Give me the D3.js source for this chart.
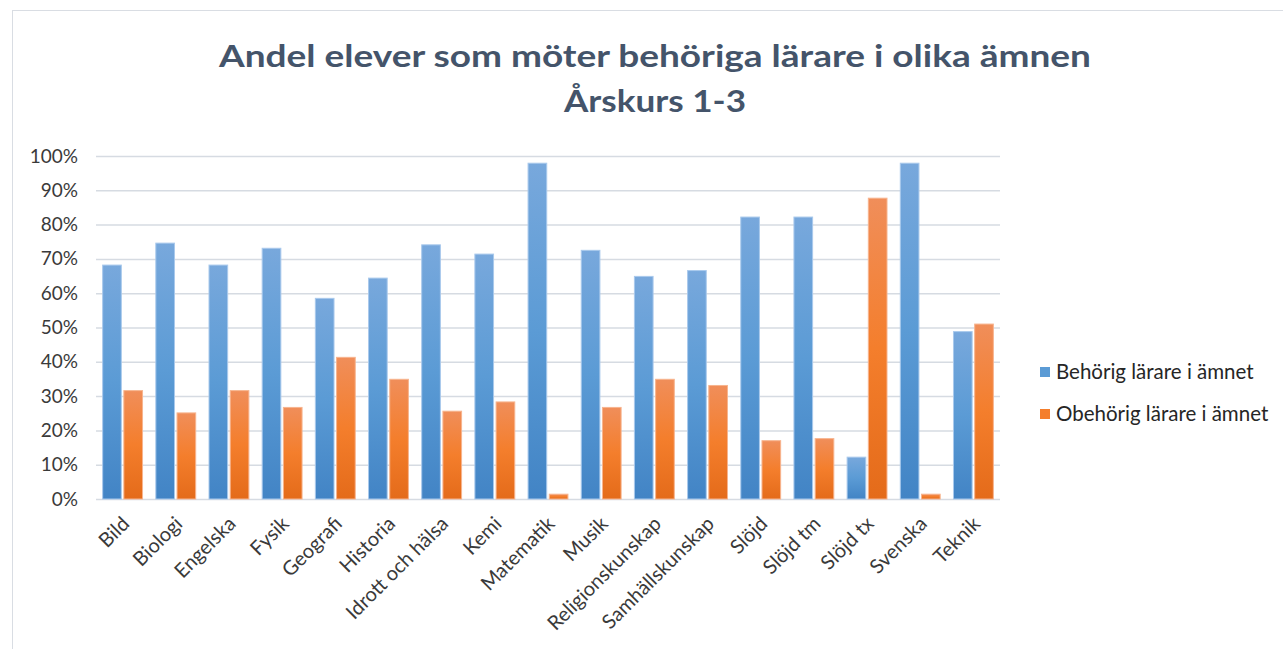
<!DOCTYPE html>
<html>
<head>
<meta charset="utf-8">
<script src="https://cdn.jsdelivr.net/npm/d3@7"></script>
<style>
    body { margin: 0; background: #fff; }
    svg { display: block; font-family: Lato, 'Open Sans', sans-serif; }
</style>
</head>
<body>
<svg></svg>
<script>
const subjects = ['Bild', 'Biologi', 'Engelska', 'Fysik', 'Geografi', 'Historia', 'Idrott och hälsa', 'Kemi',
    'Matematik', 'Musik', 'Religionskunskap', 'Samhällskunskap', 'Slöjd', 'Slöjd tm', 'Slöjd tx', 'Svenska', 'Teknik']
const behorig = [68.2, 74.6, 68.2, 73.1, 58.5, 64.4, 74.1, 71.4, 97.9, 72.5, 64.9, 66.6, 82.2, 82.2, 12.2, 97.9, 48.8]
const obehorig = [31.6, 25.1, 31.6, 26.7, 41.3, 34.9, 25.6, 28.3, 1.4, 26.7, 34.9, 33.1, 17.0, 17.6, 87.7, 1.4, 51.0]
const seriesNames = ['Behörig lärare i ämnet', 'Obehörig lärare i ämnet']
const yTicks = [0, 10, 20, 30, 40, 50, 60, 70, 80, 90, 100]
const titleLines = ['Andel elever som möter behöriga lärare i olika ämnen', 'Årskurs 1-3']

const width = 1283
const height = 649
const svg = d3.select('svg').attr('width', width).attr('height', height)

// gradients like the office-style bars
const defs = svg.append('defs')
const gradients = [
    { id: 'gBlue', stops: ['#78a8dc', '#5b9bd5', '#4284c5'] },
    { id: 'gOrange', stops: ['#f08e5a', '#f47e2c', '#e46b1a'] }
]
gradients.forEach(g => {
    const lg = defs.append('linearGradient').attr('id', g.id)
        .attr('x1', 0).attr('y1', 0).attr('x2', 0).attr('y2', 1)
    g.stops.forEach((c, i) => lg.append('stop').attr('offset', i / 2).attr('stop-color', c))
})
const strokes = ['#a9c9ec', '#f7b48e']

// chart frame
svg.append('rect')
    .attr('x', 12.5).attr('y', 10.5).attr('width', width - 10).attr('height', height)
    .attr('fill', 'none').attr('stroke', '#d9dde3').attr('stroke-width', 1)

// title
svg.selectAll('text.title').data(titleLines).enter().append('text')
    .attr('class', 'title')
    .attr('x', 655)
    .attr('y', (d, i) => 67 + i * 45)
    .attr('text-anchor', 'middle')
    .attr('font-size', 30)
    .attr('font-weight', 'bold')
    .attr('fill', '#44546a')
    .attr('textLength', (d, i) => i === 0 ? 872 : 182)
    .attr('lengthAdjust', 'spacingAndGlyphs')
    .text(d => d)

const x = d3.scaleBand().domain(subjects).range([96, 1000]).paddingInner(0.25).paddingOuter(0.125)
const y = d3.scaleLinear().domain([0, 100]).range([499, 156])
const xs = d3.scaleBand().domain([0, 1]).range([0, x.bandwidth()]).paddingInner(0.12)

// gridlines
svg.append('g').selectAll('line').data(yTicks).enter().append('line')
    .attr('x1', 96).attr('x2', 1000)
    .attr('y1', d => y(d) + 0.5).attr('y2', d => y(d) + 0.5)
    .attr('stroke', '#d6dbe2').attr('stroke-width', 1.5)

// y axis labels
const yAxis = svg.append('g').attr('transform', 'translate(78,0)')
    .call(d3.axisLeft(y).tickValues(yTicks).tickFormat(d => d + '%').tickSize(0).tickPadding(0))
yAxis.select('.domain').remove()
yAxis.selectAll('text')
    .attr('font-family', 'Lato, sans-serif').attr('font-size', 19).attr('fill', '#3a3a3a')

// bars
const groups = svg.append('g').selectAll('g').data(subjects).enter().append('g')
    .attr('transform', d => `translate(${x(d)},0)`)

groups.selectAll('rect')
    .data((d, i) => [behorig[i], obehorig[i]])
    .enter().append('rect')
    .attr('x', (d, j) => xs(j))
    .attr('width', xs.bandwidth())
    .attr('y', d => y(d))
    .attr('height', d => y(0) - y(d))
    .attr('fill', (d, j) => `url(#${gradients[j].id})`)
    .attr('stroke', (d, j) => strokes[j])
    .attr('stroke-width', 1)

// x axis labels, rotated
const xAxis = svg.append('g').attr('transform', 'translate(0,499)')
    .call(d3.axisBottom(x).tickSize(0).tickPadding(0))
xAxis.select('.domain').remove()
xAxis.selectAll('text')
    .attr('font-family', 'Lato, sans-serif').attr('font-size', 20).attr('fill', '#3a3a3a')
    .attr('text-anchor', 'end')
    .attr('dy', 0)
    .attr('transform', 'translate(8,26) rotate(-45)')

// legend
const legend = svg.append('g').selectAll('g').data(seriesNames).enter().append('g')
    .attr('transform', (d, i) => `translate(1040,${372 + i * 42})`)
legend.append('rect')
    .attr('x', 0).attr('y', -5).attr('width', 10).attr('height', 10)
    .attr('fill', (d, i) => i === 0 ? '#5b9bd5' : '#f47e2c')
legend.append('text')
    .attr('x', 16).attr('y', 7)
    .attr('font-size', 20.5).attr('fill', '#262626')
    .text(d => d)
</script>
</body>
</html>
